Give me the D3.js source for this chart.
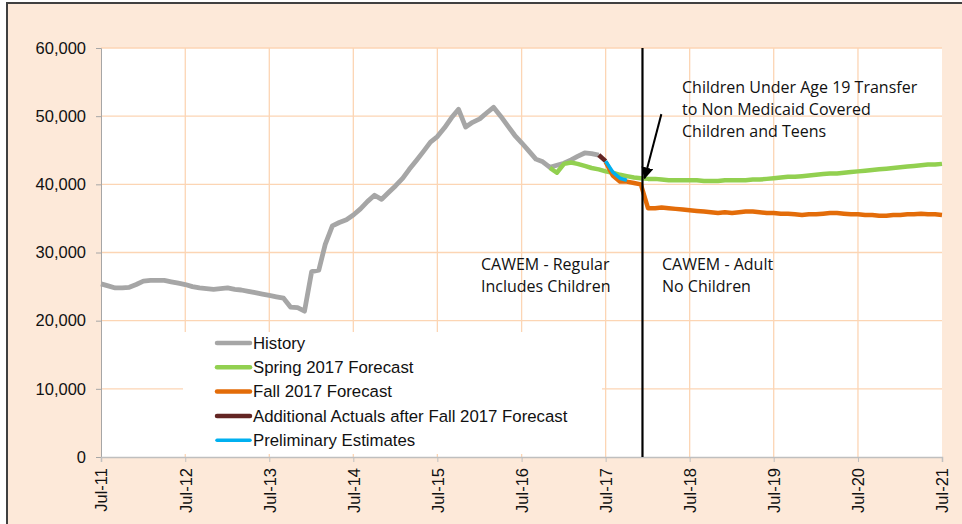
<!DOCTYPE html>
<html>
<head>
<meta charset="utf-8">
<script src="https://cdn.jsdelivr.net/npm/d3@7"></script>
<style>
  body { margin: 0; background: #fff; }
  text { font-family: "Liberation Sans", Arial, sans-serif; }
  .note { font-family: "Open Sans", "Noto Sans", sans-serif; font-size: 16px; fill: #111; }
</style>
</head>
<body>
<div id="chart"></div>
<script>
// monthly caseload values
let historyStart = "2011-07";
let historyValues = [25400, 25100, 24800, 24800, 24900, 25300, 25800, 25900, 25900, 25900, 25700, 25500,
    25300, 25000, 24800, 24700, 24600, 24700, 24800, 24600, 24500, 24300, 24100, 23900,
    23700, 23500, 23300, 22000, 21900, 21400, 27200, 27400, 31200, 33900, 34400, 34800,
    35500, 36400, 37500, 38400, 37800, 38800, 39800, 40900, 42200, 43500, 44800, 46200,
    47000, 48300, 49800, 51000, 48400, 49100, 49600, 50500, 51300, 50000, 48600, 47200,
    46100, 44900, 43700, 43300, 42500, 42800, 43100, 43600, 44100, 44600, 44500, 44300];

let springStart = "2016-11";
let springValues = [42400, 41700, 43000, 43200, 43000, 42700, 42400, 42200, 41900, 41700, 41400, 41200,
    41000, 40900, 40800, 40800, 40700, 40600, 40600, 40600, 40600, 40600, 40500, 40500,
    40500, 40600, 40600, 40600, 40600, 40700, 40700, 40800, 40900, 41000, 41100, 41100,
    41200, 41300, 41400, 41500, 41600, 41600, 41700, 41800, 41900, 42000, 42100, 42200,
    42300, 42400, 42500, 42600, 42700, 42800, 42900, 42900, 43000];

let fallStart = "2017-07";
let fallValues = [43300, 41300, 40400, 40400, 40200, 40000, 36500, 36500, 36600, 36500, 36400, 36300,
    36200, 36100, 36000, 35900, 35800, 35900, 35800, 35900, 36000, 36000, 35900, 35800,
    35800, 35700, 35700, 35600, 35500, 35600, 35600, 35700, 35800, 35800, 35700, 35600,
    35600, 35500, 35500, 35400, 35400, 35500, 35500, 35600, 35600, 35700, 35600, 35600, 35500];

let actualsStart = "2017-06";
let actualsValues = [44300, 43400];

let prelimStart = "2017-07";
let prelimValues = [43400, 41800, 40900, 40600];

let seriesNames = ["History", "Spring 2017 Forecast", "Fall 2017 Forecast",
    "Additional Actuals after Fall 2017 Forecast", "Preliminary Estimates"];
let seriesColors = ["#a6a6a6", "#92d050", "#e36c09", "#632523", "#00b0f0"];

let xTickLabels = ["Jul-11", "Jul-12", "Jul-13", "Jul-14", "Jul-15", "Jul-16", "Jul-17", "Jul-18", "Jul-19", "Jul-20", "Jul-21"];
let yTicks = [0, 10000, 20000, 30000, 40000, 50000, 60000];

let dividerDate = "2017-12-08";

let margin = {top: 48, right: 20, bottom: 67, left: 101},
    width = 942 - margin.left,
    height = 457 - margin.top;

let parseMonth = d3.timeParse("%Y-%m");
let parseDay = d3.timeParse("%Y-%m-%d");

function toSeries(start, values) {
    let d0 = parseMonth(start);
    return values.map((v, i) => ({date: d3.timeMonth.offset(d0, i), value: v}));
}

let series = [
    toSeries(historyStart, historyValues),
    toSeries(springStart, springValues),
    toSeries(fallStart, fallValues),
    toSeries(actualsStart, actualsValues),
    toSeries(prelimStart, prelimValues)
];
let lineWidths = [4.8, 4.5, 4.5, 4.5, 3.5];

let root = d3.select("#chart").append("svg")
    .attr("width", 962)
    .attr("height", 524);

// outer frame
root.append("rect")
    .attr("x", 7).attr("y", 3)
    .attr("width", 1000).attr("height", 600)
    .attr("fill", "#fde9d9")
    .attr("stroke", "#404040")
    .attr("stroke-width", 2);

let svg = root.append("g")
    .attr("transform", "translate(" + margin.left + "," + margin.top + ")");

let xScale = d3.scaleTime()
    .domain([parseMonth("2011-07"), parseMonth("2021-07")])
    .range([0, width]);
let yScale = d3.scaleLinear()
    .domain([0, 60000])
    .range([height, 0]);

let xTickDates = xTickLabels.map((s, i) => d3.timeYear.offset(parseMonth("2011-07"), i));

svg.append("rect")
    .attr("width", width)
    .attr("height", height)
    .attr("fill", "#fff");

// grid
svg.append("g").selectAll("line")
    .data(yTicks.slice(1))
    .enter().append("line")
    .attr("x1", 0).attr("x2", width)
    .attr("y1", d => yScale(d)).attr("y2", d => yScale(d))
    .attr("stroke", "#fcd5b4").attr("stroke-width", 1.3);
svg.append("g").selectAll("line")
    .data(xTickDates.slice(1, -1))
    .enter().append("line")
    .attr("x1", d => xScale(d)).attr("x2", d => xScale(d))
    .attr("y1", 0).attr("y2", height)
    .attr("stroke", "#fcd5b4").attr("stroke-width", 1.3);

// axes
let yAxis = d3.axisLeft(yScale).tickValues(yTicks).tickSize(5).tickPadding(10)
    .tickFormat(d3.format(","));
let yG = svg.append("g").call(yAxis);
yG.select(".domain").attr("stroke", "#a6a6a6");
yG.selectAll(".tick line").attr("stroke", "#a6a6a6");
yG.selectAll("text").attr("font-size", "16.5px").attr("fill", "#111")
    .style("font-family", "'Liberation Sans', Arial, sans-serif");

let xAxis = d3.axisBottom(xScale).tickValues(xTickDates).tickSize(5)
    .tickFormat((d, i) => xTickLabels[i]);
let xG = svg.append("g")
    .attr("transform", "translate(0," + height + ")")
    .call(xAxis);
xG.select(".domain").attr("stroke", "#bfbfbf").attr("stroke-width", 1.5);
xG.selectAll(".tick line").attr("stroke", "#bfbfbf");
xG.selectAll("text")
    .attr("font-size", "16.5px").attr("fill", "#111")
    .style("font-family", "'Liberation Sans', Arial, sans-serif")
    .style("text-anchor", "end")
    .attr("x", -11)
    .attr("y", 0)
    .attr("dy", "0.35em")
    .attr("transform", "rotate(-90)");

// lines
let line = d3.line()
    .x(d => xScale(d.date))
    .y(d => yScale(d.value));

svg.selectAll(".series")
    .data(series)
    .enter().append("path")
    .attr("class", "series")
    .attr("d", line)
    .attr("fill", "none")
    .attr("stroke", (d, i) => seriesColors[i])
    .attr("stroke-width", (d, i) => lineWidths[i])
    .attr("stroke-linejoin", "round");

// divider
let xDiv = xScale(parseDay(dividerDate));
svg.append("line")
    .attr("x1", xDiv).attr("x2", xDiv)
    .attr("y1", 0).attr("y2", height)
    .attr("stroke", "#000").attr("stroke-width", 2.2);

// arrow
root.append("defs").append("marker")
    .attr("id", "arrowhead")
    .attr("viewBox", "0 0 10 10")
    .attr("refX", 9).attr("refY", 5)
    .attr("markerWidth", 6).attr("markerHeight", 6)
    .attr("orient", "auto")
  .append("path")
    .attr("d", "M0,0 L10,5 L0,10 z")
    .attr("fill", "#000");

svg.append("line")
    .attr("x1", xScale(parseDay("2018-02-28"))).attr("y1", yScale(50300))
    .attr("x2", xScale(parseDay("2017-12-17"))).attr("y2", yScale(40900))
    .attr("stroke", "#000").attr("stroke-width", 2)
    .attr("marker-end", "url(#arrowhead)");

// annotation texts
let noteLines = ["Children Under Age 19 Transfer", "to Non Medicaid Covered", "Children and Teens"];
svg.append("text")
    .attr("class", "note")
    .attr("x", 581).attr("y", 45)
    .selectAll("tspan")
    .data(noteLines)
    .enter().append("tspan")
    .attr("x", 581)
    .attr("dy", (d, i) => i === 0 ? 0 : 22)
    .text(d => d);

svg.append("text").attr("class", "note")
    .attr("x", 380).attr("y", 222)
    .selectAll("tspan")
    .data(["CAWEM - Regular", "Includes Children"])
    .enter().append("tspan")
    .attr("x", 380)
    .attr("dy", (d, i) => i === 0 ? 0 : 22)
    .text(d => d);

svg.append("text").attr("class", "note")
    .attr("x", 561).attr("y", 222)
    .selectAll("tspan")
    .data(["CAWEM - Adult", "No Children"])
    .enter().append("tspan")
    .attr("x", 561)
    .attr("dy", (d, i) => i === 0 ? 0 : 22)
    .text(d => d);

// legend
let legend = svg.append("g")
    .attr("transform", "translate(82,284)");
legend.append("rect")
    .attr("width", 419).attr("height", 122)
    .attr("fill", "#fff");
let rows = legend.selectAll(".row")
    .data(seriesNames)
    .enter().append("g")
    .attr("class", "row")
    .attr("transform", (d, i) => "translate(0," + (11 + i * 24.3) + ")");
rows.append("line")
    .attr("x1", 34).attr("x2", 67)
    .attr("stroke", (d, i) => seriesColors[i])
    .attr("stroke-width", (d, i) => i === 4 ? 3.5 : 4.5)
    .attr("stroke-linecap", "round");
rows.append("text")
    .attr("x", 70)
    .attr("dy", "0.35em")
    .attr("font-size", "16.8px")
    .attr("fill", "#111")
    .text(d => d);
</script>
</body>
</html>
